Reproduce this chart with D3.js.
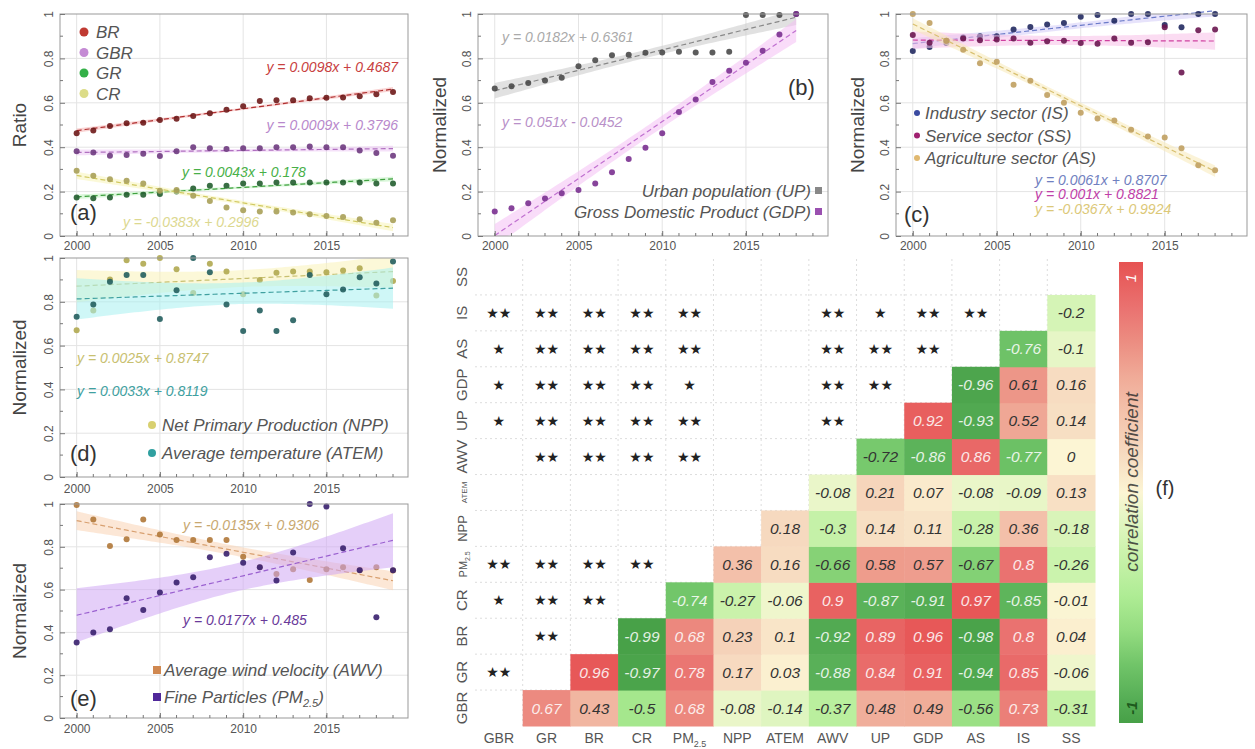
<!DOCTYPE html>
<meta charset="utf-8">
<html>
<head>
<style>
    body { margin: 0; background: #fff; font-family: 'Liberation Sans', Arial, sans-serif; }
    .tick text { fill: #555; font-size: 12px; font-family: 'Liberation Sans', Arial, sans-serif; }
    .tick line { stroke: #777; }
    .eq { font-style: italic; font-size: 14px; }
    .leg { font-style: italic; font-size: 17px; fill: #555; }
    .ytitle { font-size: 19px; fill: #444; }
    .tag { font-size: 22px; fill: #333; }
</style>
<script src="https://cdn.jsdelivr.net/npm/d3@7"></script>
</head>
<body>
<svg id="fig" width="1255" height="749"></svg>
<script>

// ---- data ----
var years20 = [2000, 2001, 2002, 2003, 2004, 2005, 2006, 2007, 2008, 2009, 2010, 2011, 2012, 2013, 2014, 2015, 2016, 2017, 2018, 2019];
var years19 = [2000, 2001, 2002, 2003, 2004, 2005, 2006, 2007, 2008, 2009, 2010, 2011, 2012, 2013, 2014, 2015, 2016, 2017, 2018];
var xTicks = [2000, 2005, 2010, 2015];
var yTicks = [0, 0.2, 0.4, 0.6, 0.8, 1];

// (a) ratios
var brRatio  = [0.463, 0.475, 0.495, 0.508, 0.51, 0.523, 0.528, 0.54, 0.553, 0.569, 0.584, 0.608, 0.611, 0.611, 0.621, 0.623, 0.624, 0.63, 0.638, 0.649];
var gbrRatio = [0.382, 0.376, 0.362, 0.365, 0.37, 0.36, 0.382, 0.4, 0.395, 0.392, 0.395, 0.395, 0.4, 0.4, 0.403, 0.4, 0.4, 0.385, 0.374, 0.362];
var grRatio  = [0.173, 0.17, 0.173, 0.186, 0.186, 0.189, 0.2, 0.214, 0.226, 0.226, 0.237, 0.237, 0.241, 0.241, 0.241, 0.241, 0.241, 0.241, 0.237, 0.237];
var crRatio  = [0.294, 0.271, 0.256, 0.249, 0.237, 0.204, 0.207, 0.181, 0.158, 0.128, 0.116, 0.11, 0.11, 0.106, 0.098, 0.09, 0.086, 0.075, 0.06, 0.071];
var eqA = ["y = 0.0098x + 0.4687", "y = 0.0009x + 0.3796", "y = 0.0043x + 0.178", "y = -0.0383x + 0.2996"];

// (b) urban population, GDP
var upNorm  = [0.664, 0.674, 0.689, 0.701, 0.713, 0.765, 0.792, 0.814, 0.817, 0.825, 0.827, 0.83, 0.827, 0.827, 0.83, 0.995, 0.995, 0.995, 1.0];
var gdpNorm = [0.11, 0.125, 0.148, 0.169, 0.193, 0.207, 0.237, 0.287, 0.347, 0.397, 0.463, 0.558, 0.615, 0.694, 0.744, 0.78, 0.834, 0.908, 1.0];
var eqB = ["y = 0.0182x + 0.6361", "y = 0.051x - 0.0452"];

// (c) sectors
var isNorm = [0.833, 0.851, 0.869, 0.894, 0.9, 0.9, 0.93, 0.942, 0.953, 0.96, 0.988, 0.995, 0.97, 1.0, 1.0, 0.95, 0.94, 1.0, 1.0];
var ssNorm = [0.905, 0.87, 0.88, 0.89, 0.882, 0.885, 0.89, 0.87, 0.877, 0.88, 0.869, 0.866, 0.89, 0.87, 0.873, 0.94, 0.737, 0.927, 0.93];
var asNorm = [1.0, 0.96, 0.88, 0.839, 0.778, 0.785, 0.681, 0.699, 0.635, 0.6, 0.555, 0.529, 0.52, 0.479, 0.448, 0.444, 0.395, 0.319, 0.296];
var eqC = ["y = 0.0061x + 0.8707", "y = 0.001x + 0.8821", "y = -0.0367x + 0.9924"];

// (d) NPP, temperature
var nppNorm  = [0.67, 0.76, 0.902, 0.99, 0.974, 1.0, 0.949, 0.84, 0.974, 0.938, 0.834, 0.899, 0.933, 0.938, 0.938, 0.935, 0.943, 0.953, 0.829, 0.895];
var atemNorm = [0.732, 0.788, 0.891, 0.922, 0.922, 0.721, 0.853, 1.0, 0.935, 0.788, 0.667, 0.76, 0.667, 0.716, 0.922, 0.834, 0.856, 0.912, 0.884, 0.984];
var eqD = ["y = 0.0025x + 0.8747", "y = 0.0033x + 0.8119"];

// (e) wind, PM2.5
var awvNorm = [0.995, 0.928, 0.804, 0.835, 0.928, 0.858, 0.832, 0.832, 0.832, 0.832, 0.754, 0.705, 0.673, 0.695, 0.645, 0.695, 0.705, 0.692, 0.705, 0.689];
var pmNorm  = [0.353, 0.4, 0.415, 0.56, 0.505, 0.586, 0.633, 0.658, 0.751, 0.767, 0.726, 0.705, 0.642, 0.773, 1.0, 0.988, 0.793, 0.69, 0.471, 0.69];
var eqE = ["y = -0.0135x + 0.9306", "y = 0.0177x + 0.485"];

// (f) correlation matrix
var vars = ["GBR", "GR", "BR", "CR", "PM2.5", "NPP", "ATEM", "AWV", "UP", "GDP", "AS", "IS", "SS"];
// values right of the diagonal, row by row (row i, columns i+1 ..)
var corrUpper = [
    [0.67, 0.43, -0.5, 0.68, -0.08, -0.14, -0.37, 0.48, 0.49, -0.56, 0.73, -0.31],
    [0.96, -0.97, 0.78, 0.17, 0.03, -0.88, 0.84, 0.91, -0.94, 0.85, -0.06],
    [-0.99, 0.68, 0.23, 0.1, -0.92, 0.89, 0.96, -0.98, 0.8, 0.04],
    [-0.74, -0.27, -0.06, 0.9, -0.87, -0.91, 0.97, -0.85, -0.01],
    [0.36, 0.16, -0.66, 0.58, 0.57, -0.67, 0.8, -0.26],
    [0.18, -0.3, 0.14, 0.11, -0.28, 0.36, -0.18],
    [-0.08, 0.21, 0.07, -0.08, -0.09, 0.13],
    [-0.72, -0.86, 0.86, -0.77, 0],
    [0.92, -0.93, 0.52, 0.14],
    [-0.96, 0.61, 0.16],
    [-0.76, -0.1],
    [-0.2],
    []
];
// significance marks left of the diagonal (row i, columns 0 .. i-1)
var sigLower = [
    [],
    ["**"],
    ["", "**"],
    ["*", "**", "**"],
    ["**", "**", "**", "**"],
    ["", "", "", "", ""],
    ["", "", "", "", "", ""],
    ["", "**", "**", "**", "**", "", ""],
    ["*", "**", "**", "**", "**", "", "", "**"],
    ["*", "**", "**", "**", "*", "", "", "**", "**"],
    ["*", "**", "**", "**", "**", "", "", "**", "**", "**"],
    ["**", "**", "**", "**", "**", "", "", "**", "*", "**", "**"],
    []
];
var corrStops = [-1, -0.9, -0.75, -0.6, -0.45, -0.25, -0.1, 0, 0.15, 0.35, 0.5, 0.65, 0.8, 1];
var corrColors = ["#47a047", "#55ad55", "#70c468", "#94dc80", "#aeec94", "#cdf3ae", "#e6f6c6", "#fcf5d4",
                  "#f7ddc2", "#f3c2ab", "#f0ab98", "#ec8e82", "#ea7270", "#e65252"];

// ---- helpers ----
var svg = d3.select("#fig");

// least squares fit with 95% confidence band, x counted from 1999
function linFit(xs, ys) {
    var n = xs.length;
    var t = xs.map(function (d) { return d - 1999; });
    var tm = d3.mean(t), ym = d3.mean(ys);
    var sxx = d3.sum(t, function (d) { return (d - tm) * (d - tm); });
    var sxy = d3.sum(t, function (d, i) { return (d - tm) * (ys[i] - ym); });
    var b = sxy / sxx, a = ym - b * tm;
    var sse = d3.sum(t, function (d, i) { var r = ys[i] - (a + b * d); return r * r; });
    var s = Math.sqrt(sse / (n - 2));
    return {
        f: function (yr) { return a + b * (yr - 1999); },
        h: function (yr) { var d = yr - 1999 - tm; return 2.1 * s * Math.sqrt(1 / n + d * d / sxx); }
    };
}

function panel(p) {
    var g = svg.append("g");
    var x = d3.scaleLinear().domain([1999, 2019.9]).range([p.left, p.right]);
    var y = d3.scaleLinear().domain([0, 1]).range([p.bottom, p.top]);

    g.selectAll(".vg").data(xTicks).enter().append("line")
        .attr("x1", function (d) { return x(d); }).attr("x2", function (d) { return x(d); })
        .attr("y1", p.top).attr("y2", p.bottom).attr("stroke", "#e4e4e4");
    g.selectAll(".hg").data([0.2, 0.4, 0.6, 0.8]).enter().append("line")
        .attr("x1", p.left).attr("x2", p.right)
        .attr("y1", function (d) { return y(d); }).attr("y2", function (d) { return y(d); })
        .attr("stroke", "#e4e4e4");

    p.series.forEach(function (s) {
        var fit = linFit(s.years, s.values);
        var xs = d3.range(s.years[0], s.years[s.years.length - 1] + 0.01, 0.25);
        g.append("path").datum(xs)
            .attr("fill", s.band).attr("opacity", 0.55)
            .attr("d", d3.area()
                .x(function (d) { return x(d); })
                .y0(function (d) { return y(Math.max(0, fit.f(d) - fit.h(d))); })
                .y1(function (d) { return y(Math.min(1, fit.f(d) + fit.h(d))); }));
        g.append("path").datum(xs)
            .attr("fill", "none").attr("stroke", s.line).attr("stroke-width", 1.2)
            .attr("stroke-dasharray", "5,3")
            .attr("d", d3.line().x(function (d) { return x(d); }).y(function (d) { return y(fit.f(d)); }));
        g.selectAll(null).data(s.values).enter().append("circle")
            .attr("cx", function (d, i) { return x(s.years[i]); })
            .attr("cy", function (d) { return y(d); })
            .attr("r", 3).attr("fill", s.dot).attr("opacity", 0.9);
    });

    g.append("rect").attr("x", p.left).attr("y", p.top)
        .attr("width", p.right - p.left).attr("height", p.bottom - p.top)
        .attr("fill", "none").attr("stroke", "#999");

    // minor ticks
    g.selectAll(".mx").data(years20).enter().append("line")
        .attr("x1", function (d) { return x(d); }).attr("x2", function (d) { return x(d); })
        .attr("y1", p.bottom).attr("y2", p.bottom - 3).attr("stroke", "#777");
    g.selectAll(".my").data([0.1, 0.3, 0.5, 0.7, 0.9]).enter().append("line")
        .attr("x1", p.left).attr("x2", p.left + 3)
        .attr("y1", function (d) { return y(d); }).attr("y2", function (d) { return y(d); })
        .attr("stroke", "#777");

    var xa = g.append("g").attr("transform", "translate(0," + p.bottom + ")")
        .call(d3.axisBottom(x).tickValues(xTicks).tickFormat(d3.format("d"))
            .tickSizeInner(-5).tickSizeOuter(0).tickPadding(p.xPad));
    xa.select(".domain").remove();

    var ya = g.append("g").attr("transform", "translate(" + p.left + ",0)")
        .call(d3.axisLeft(y).tickValues(yTicks)
            .tickFormat(function (d) { return d === 0 ? "0" : d === 1 ? "1" : d3.format(".1f")(d); })
            .tickSizeInner(-5).tickSizeOuter(0));
    ya.select(".domain").remove();
    ya.selectAll("text").attr("x", 0).attr("dy", 0).attr("text-anchor", "middle")
        .attr("transform", "translate(-7,0) rotate(-90)");

    g.append("text").attr("class", "ytitle").attr("text-anchor", "middle")
        .attr("transform", "translate(" + p.titleX + "," + ((p.top + p.bottom) / 2) + ") rotate(-90)")
        .text(p.title);
    return { g: g, x: x, y: y };
}

function eqText(g, x, y, txt, col, anchor) {
    g.append("text").attr("class", "eq").attr("x", x).attr("y", y)
        .attr("text-anchor", anchor || "start").attr("fill", col).text(txt);
}

// ---- (a) ----
var pa = panel({
    left: 60, right: 408, top: 14, bottom: 236, xPad: 5, titleX: 26, title: "Ratio",
    series: [
        { years: years20, values: brRatio, dot: "#6e1a1a", line: "#b03030", band: "#f4b0b0" },
        { years: years20, values: gbrRatio, dot: "#6e3a80", line: "#b070c0", band: "#ecc8f4" },
        { years: years20, values: grRatio, dot: "#235e30", line: "#40a040", band: "#bcf0bc" },
        { years: years20, values: crRatio, dot: "#a8a058", line: "#d0c860", band: "#f8f4b8" }
    ]
});
var legA = [["BR", "#c03a32"], ["GBR", "#c48ad4"], ["GR", "#34b048"], ["CR", "#dcdc88"]];
legA.forEach(function (d, i) {
    pa.g.append("circle").attr("cx", 84).attr("cy", 32 + i * 20.5).attr("r", 4.5).attr("fill", d[1]);
    pa.g.append("text").attr("class", "leg").attr("x", 96).attr("y", 38 + i * 20.5).text(d[0]);
});
eqText(pa.g, 398, 72, eqA[0], "#c84040", "end");
eqText(pa.g, 398, 130, eqA[1], "#b888cc", "end");
eqText(pa.g, 244, 177, eqA[2], "#48b048", "middle");
eqText(pa.g, 191, 227, eqA[3], "#dcd890", "middle");
pa.g.append("text").attr("class", "tag").attr("x", 70).attr("y", 220).text("(a)");

// ---- (b) ----
var pb = panel({
    left: 478, right: 828, top: 14, bottom: 236, xPad: 5, titleX: 446, title: "Normalized",
    series: [
        { years: years19, values: upNorm, dot: "#4a4a4a", line: "#888", band: "#c8c8c8" },
        { years: years19, values: gdpNorm, dot: "#7a3090", line: "#c070d0", band: "#f4c0f4" }
    ]
});
eqText(pb.g, 502, 42, eqB[0], "#aaa");
eqText(pb.g, 502, 127, eqB[1], "#b890c8");
pb.g.append("text").attr("class", "tag").attr("x", 788).attr("y", 95).text("(b)");
[["Urban population (UP)", "#888"], ["Gross Domestic Product (GDP)", "#9a50b0"]].forEach(function (d, i) {
    pb.g.append("text").attr("class", "leg").attr("x", 811).attr("y", 197 + i * 21)
        .attr("text-anchor", "end").text(d[0]);
    pb.g.append("rect").attr("x", 815).attr("y", 187 + i * 21).attr("width", 7).attr("height", 7).attr("fill", d[1]);
});

// ---- (c) ----
var pc = panel({
    left: 896, right: 1247, top: 14, bottom: 236, xPad: 5, titleX: 864, title: "Normalized",
    series: [
        { years: years19, values: isNorm, dot: "#222a60", line: "#6a7ac8", band: "#d4ccf8" },
        { years: years19, values: ssNorm, dot: "#6a1650", line: "#d040a0", band: "#f8c0e8" },
        { years: years19, values: asNorm, dot: "#c0a060", line: "#d8c070", band: "#f8eab8" }
    ]
});
[["Industry sector (IS)", "#3a4aa0"], ["Service sector (SS)", "#a02070"], ["Agriculture sector (AS)", "#e0b870"]].forEach(function (d, i) {
    pc.g.append("circle").attr("cx", 917).attr("cy", 113 + i * 22.5).attr("r", 3).attr("fill", d[1]);
    pc.g.append("text").attr("class", "leg").attr("x", 925).attr("y", 119 + i * 22.5).text(d[0]);
});
eqText(pc.g, 1035, 185, eqC[0], "#7080c0");
eqText(pc.g, 1035, 199, eqC[1], "#c040a8");
eqText(pc.g, 1035, 214, eqC[2], "#dcc878");
pc.g.append("text").attr("class", "tag").attr("x", 904).attr("y", 222).text("(c)");

// ---- (d) ----
var pd = panel({
    left: 60, right: 408, top: 258, bottom: 477, xPad: 7, titleX: 26, title: "Normalized",
    series: [
        { years: years20, values: nppNorm, dot: "#b0a850", line: "#c8c070", band: "#faf2b8" },
        { years: years20, values: atemNorm, dot: "#235e5e", line: "#40a0a0", band: "#a8f0f0" }
    ]
});
eqText(pd.g, 77, 363, eqD[0], "#c8c070");
eqText(pd.g, 77, 396, eqD[1], "#40a0a0");
[["Net Primary Production (NPP)", "#d8d070"], ["Average temperature (ATEM)", "#30a0a0"]].forEach(function (d, i) {
    pd.g.append("circle").attr("cx", 152).attr("cy", 425 + i * 28).attr("r", 4).attr("fill", d[1]);
    pd.g.append("text").attr("class", "leg").attr("x", 162).attr("y", 431 + i * 28).text(d[0]);
});
pd.g.append("text").attr("class", "tag").attr("x", 70).attr("y", 461).text("(d)");

// ---- (e) ----
var pe = panel({
    left: 60, right: 408, top: 504, bottom: 718, xPad: 6, titleX: 26, title: "Normalized",
    series: [
        { years: years20, values: awvNorm, dot: "#b07838", line: "#d8a070", band: "#fad4b4" },
        { years: years20, values: pmNorm, dot: "#38206e", line: "#9a60d0", band: "#cfa8f4" }
    ]
});
eqText(pe.g, 183, 530, eqE[0], "#c8a870");
eqText(pe.g, 183, 625, eqE[1], "#6a3a9a");
var legE = pe.g.selectAll(".le").data([["Average wind velocity (AWV)", "#d08850"], ["Fine Particles (PM", "#50289a"]])
    .enter().append("g");
legE.append("rect").attr("x", 153).attr("y", function (d, i) { return 666 + i * 27; })
    .attr("width", 8).attr("height", 8).attr("fill", function (d) { return d[1]; });
var legEText = legE.append("text").attr("class", "leg").attr("x", 164)
    .attr("y", function (d, i) { return 676 + i * 27; }).text(function (d) { return d[0]; });
legEText.filter(function (d, i) { return i === 1; }).each(function () {
    var t = d3.select(this);
    t.append("tspan").attr("font-size", "11px").attr("dy", 4).text("2.5");
    t.append("tspan").attr("dy", -4).text(")");
});
pe.g.append("text").attr("class", "tag").attr("x", 70).attr("y", 706).text("(e)");

// ---- (f) correlation heat map ----
var hx = d3.scaleBand().domain(vars).range([475, 1095]);
var hy = d3.scaleBand().domain(vars.slice().reverse()).range([259, 726]);
var corrColor = d3.scaleLinear().domain(corrStops).range(corrColors);
var hf = svg.append("g");

// faint dotted guides
hf.selectAll(".gv").data(vars.slice(1)).enter().append("line")
    .attr("x1", function (d) { return hx(d); }).attr("x2", function (d) { return hx(d); })
    .attr("y1", 259).attr("y2", 726).attr("stroke", "#ddd").attr("stroke-dasharray", "2,3");
hf.selectAll(".gh").data(vars.slice(1)).enter().append("line")
    .attr("x1", 475).attr("x2", 1095)
    .attr("y1", function (d) { return hy(d) + hy.bandwidth(); }).attr("y2", function (d) { return hy(d) + hy.bandwidth(); })
    .attr("stroke", "#ddd").attr("stroke-dasharray", "2,3");

var cells = [];
corrUpper.forEach(function (row, i) {
    row.forEach(function (v, k) { cells.push({ r: vars[i], c: vars[i + 1 + k], v: v }); });
});
var stars = [];
sigLower.forEach(function (row, i) {
    row.forEach(function (s, j) { if (s) stars.push({ r: vars[i], c: vars[j], s: s }); });
});

hf.selectAll(".cell").data(cells).enter().append("rect")
    .attr("x", function (d) { return hx(d.c); }).attr("y", function (d) { return hy(d.r); })
    .attr("width", hx.bandwidth() + 0.5).attr("height", hy.bandwidth() + 0.5)
    .attr("fill", function (d) { return corrColor(d.v); });
hf.selectAll(".val").data(cells).enter().append("text")
    .attr("x", function (d) { return hx(d.c) + hx.bandwidth() / 2; })
    .attr("y", function (d) { return hy(d.r) + hy.bandwidth() / 2 + 5.5; })
    .attr("text-anchor", "middle").attr("font-style", "italic").attr("font-size", "15.5px")
    .attr("fill", function (d) { return (d.v >= 0.65 || d.v <= -0.73) ? "#fff" : "#333"; })
    .attr("opacity", function (d) { return (d.v >= 0.65 || d.v <= -0.73) ? 0.85 : 1; })
    .text(function (d) { return String(d.v); });
hf.selectAll(".star").data(stars).enter().append("text")
    .attr("x", function (d) { return hx(d.c) + hx.bandwidth() / 2; })
    .attr("y", function (d) { return hy(d.r) + hy.bandwidth() / 2 + 5; })
    .attr("text-anchor", "middle").attr("font-size", "14px").attr("fill", "#222")
    .attr("font-family", "DejaVu Sans")
    .text(function (d) { return d.s.replace(/\*/g, "\u2605"); });

// column labels
var colLab = hf.selectAll(".cl").data(vars).enter().append("text")
    .attr("x", function (d) { return hx(d) + hx.bandwidth() / 2; }).attr("y", 743)
    .attr("text-anchor", "middle").attr("font-size", "14px").attr("fill", "#555");
colLab.each(function (d) {
    var t = d3.select(this);
    if (d === "PM2.5") {
        t.append("tspan").text("PM");
        t.append("tspan").attr("font-size", "9px").attr("dy", 4).text("2.5");
    } else t.text(d);
});
// row labels (rotated)
var rowLab = hf.selectAll(".rl").data(vars).enter().append("text")
    .attr("transform", function (d) { return "translate(467," + (hy(d) + hy.bandwidth() / 2) + ") rotate(-90)"; })
    .attr("text-anchor", "middle").attr("fill", "#555")
    .attr("font-size", function (d) { return d === "ATEM" ? "8px" : d === "PM2.5" ? "11px" : d === "NPP" ? "13px" : "15px"; });
rowLab.each(function (d) {
    var t = d3.select(this);
    if (d === "PM2.5") {
        t.append("tspan").text("PM");
        t.append("tspan").attr("font-size", "7px").attr("dy", 3).text("2.5");
    } else t.text(d);
});

// colour bar
var grad = svg.append("defs").append("linearGradient").attr("id", "cbar")
    .attr("x1", 0).attr("y1", 1).attr("x2", 0).attr("y2", 0);
grad.selectAll("stop").data(corrStops).enter().append("stop")
    .attr("offset", function (d) { return (d + 1) / 2; })
    .attr("stop-color", function (d) { return corrColor(d); });
svg.append("rect").attr("x", 1119).attr("y", 262).attr("width", 24).attr("height", 461).attr("fill", "url(#cbar)");
svg.append("text").attr("transform", "translate(1136,278) rotate(-90)").attr("text-anchor", "middle")
    .attr("font-style", "italic").attr("font-size", "15px").attr("fill", "#fff").text("1");
svg.append("text").attr("transform", "translate(1137,708) rotate(-90)").attr("text-anchor", "middle")
    .attr("font-style", "italic").attr("font-size", "15px").attr("font-weight", "bold").attr("fill", "#1d5a1d").text("-1");
svg.append("text").attr("transform", "translate(1138,482) rotate(-90)").attr("text-anchor", "middle")
    .attr("font-style", "italic").attr("font-size", "19px").attr("fill", "#2a2a2a").attr("opacity", 0.8)
    .text("correlation coefficient");
svg.append("text").attr("x", 1165).attr("y", 495).attr("text-anchor", "middle")
    .attr("font-size", "20px").attr("fill", "#333").text("(f)");

</script>
</body>
</html>
